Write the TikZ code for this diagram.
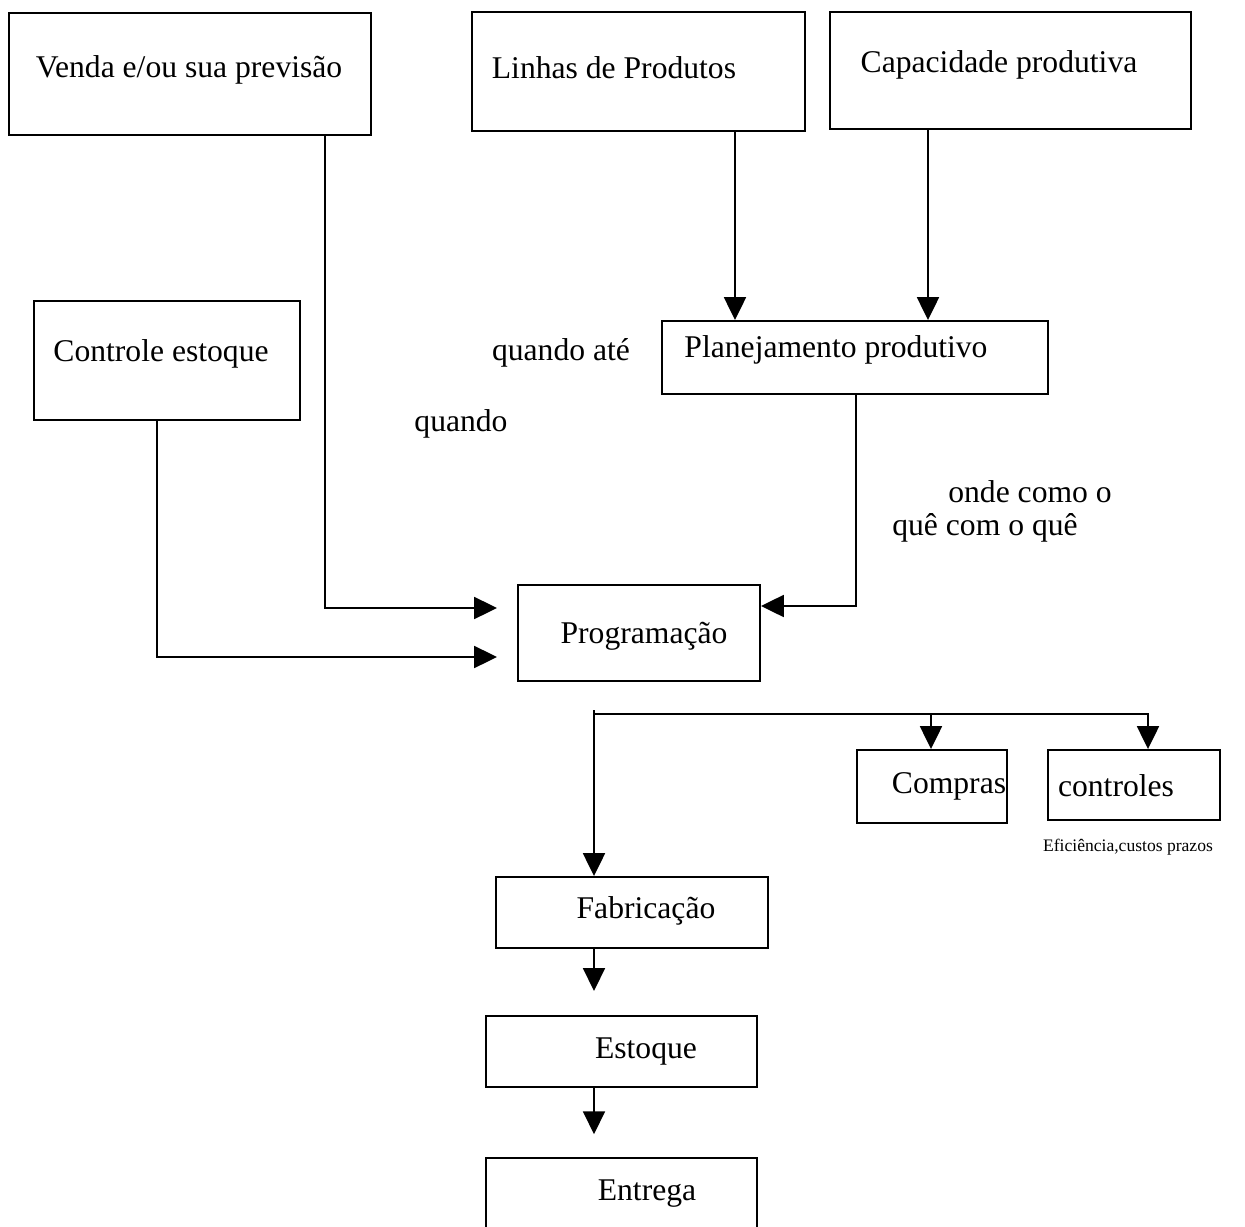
\documentclass[tikz,border=0pt]{standalone}
\usepackage{fontspec}
\setmainfont{Liberation Serif}
\usetikzlibrary{fit,arrows.meta}
\begin{document}
\begin{tikzpicture}[x=0.02cm, y=-0.02cm,
  box/.style={draw, line width=1.1pt, inner sep=0pt, fit={#1}},
  txt/.style={inner sep=0pt, yshift=-1.7pt, font=\fontsize{18}{22}\selectfont},
  small/.style={inner sep=0pt, font=\fontsize{10}{12}\selectfont},
  conn/.style={line width=1.1pt},
  arr/.style={conn, -{Triangle[width=12.5pt, length=13pt]}}]
\useasboundingbox (0,0) rectangle (1245,1227);
\clip (0,0) rectangle (1245,1227);

% boxes
\node[box={(9,13) (371,135)}]     (venda) {};
\node[box={(472,12) (805,131)}]   (linhas) {};
\node[box={(830,12) (1191,129)}]  (capac) {};
\node[box={(34,301) (300,420)}]   (ctrlest) {};
\node[box={(662,321) (1048,394)}] (plan) {};
\node[box={(518,585) (760,681)}]  (prog) {};
\node[box={(857,750) (1007,823)}] (compras) {};
\node[box={(1048,750) (1220,820)}] (ctrl) {};
\node[box={(496,877) (768,948)}]  (fab) {};
\node[box={(486,1016) (757,1087)}] (est) {};
\node[box={(486,1158) (757,1280)}] (entr) {};

% box texts
\node[txt] (venda-t)   at (189,67)  {Venda e/ou sua previsão};
\node[txt] (linhas-t)  at (614,65)  {Linhas de Produtos};
\node[txt] (capac-t)   at (999,62)  {Capacidade produtiva};
\node[txt] (ctrlest-t) at (161,351) {Controle estoque};
\node[txt] (plan-t)    at (836,347) {Planejamento produtivo};
\node[txt] (prog-t)    at (644,633) {Programação};
\node[txt] (compras-t) at (949,783) {Compras};
\node[txt] (ctrl-t)    at (1116,783) {controles};
\node[txt] (fab-t)     at (646,908) {Fabricação};
\node[txt] (est-t)     at (646,1049) {Estoque};
\node[txt] (entr-t)    at (647,1191) {Entrega};

% free labels
\node[txt] (qate)  at (561,350) {quando até};
\node[txt] (qdo)   at (461,421) {quando};
\node[txt] (onde1) at (1030,489) {onde como o};
\node[txt] (onde2) at (985,525) {quê com o quê};
\node[small] (efic) at (1128,847) {Eficiência,custos prazos};

% junction points
\coordinate (vendaJ) at (325,608);
\coordinate (ctrlJ)  at (157,657);
\coordinate (planJ)  at (856,606);
\coordinate (split)  at (594,714);
\coordinate (splitTop) at (594,710);
\coordinate (inA) at (497,608);
\coordinate (inB) at (497,657);

% inputs to Programação
\draw[arr] (venda.south -| vendaJ) -- (vendaJ) -- (inA);
\draw[arr] (ctrlest.south -| ctrlJ) -- (ctrlJ) -- (inB);
\draw[arr] (plan.south -| planJ) -- (planJ) -- (prog.east |- planJ);

% inputs to Planejamento
\draw[arr] (linhas.south -| 735,0) -- (plan.north -| 735,0);
\draw[arr] (capac.south -| 928,0) -- (plan.north -| 928,0);

% outputs of Programação
\draw[conn] (splitTop) -- (split);
\draw[arr] (split) -| (ctrl.north -| 1148,0);
\draw[arr] (split) -| (compras.north -| 931,0);
\draw[arr] (split) -- (fab.north -| split);

% production chain
\draw[arr, shorten >=13.7pt] (fab.south -| split) -- (est.north -| split);
\draw[arr, shorten >=13pt] (est.south -| split) -- (entr.north -| split);
\end{tikzpicture}
\end{document}
